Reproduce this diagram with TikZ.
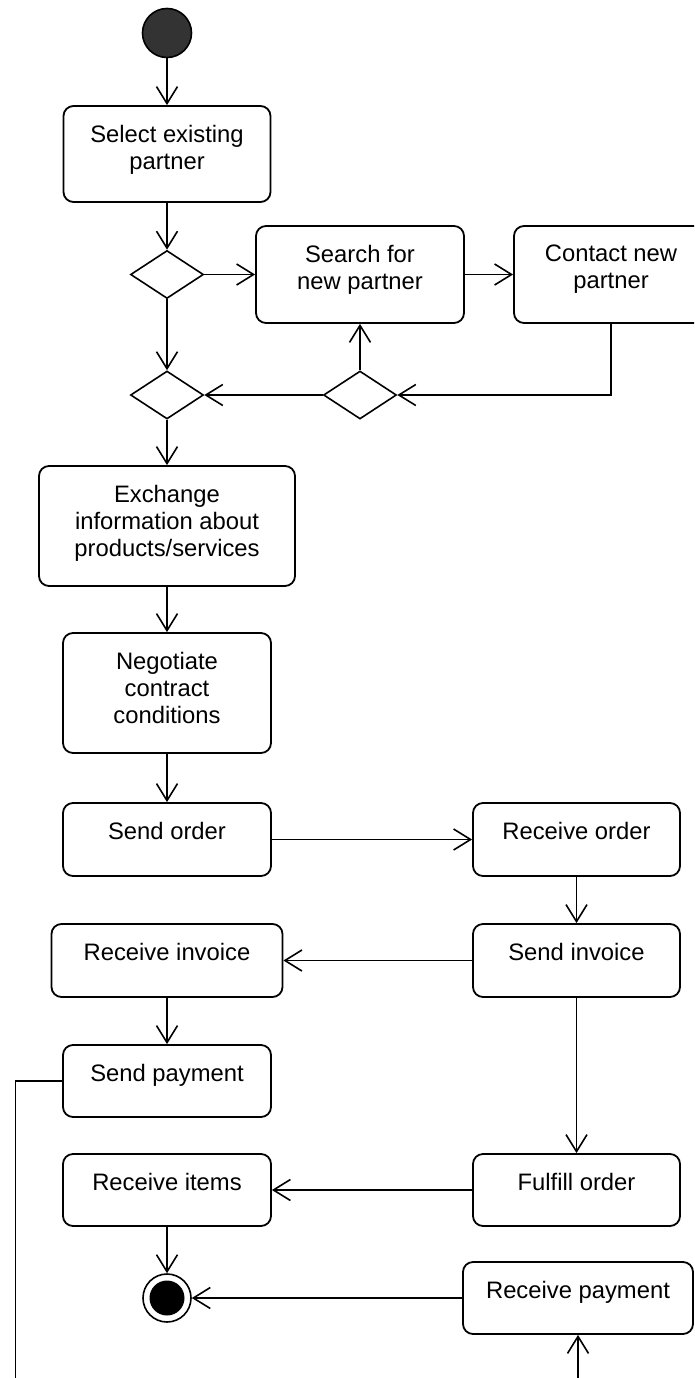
\documentclass[tikz,border=0pt]{standalone}
\usepackage{fontspec}
\setmainfont{Liberation Sans}
\usetikzlibrary{arrows.meta,shapes.geometric}
\definecolor{startgray}{HTML}{333333}
\begin{document}
\begin{tikzpicture}[x=1pt,y=-1pt,
  act/.style={draw, rounded corners=10pt, line width=1.8pt, inner sep=0pt},
  lbl/.style={anchor=north, inner sep=0pt, align=center, font={\fontsize{23.8}{27}\selectfont}},
  dec/.style={draw, diamond, line width=1.6pt, minimum width=73pt, minimum height=48pt, inner sep=0pt},
  flow/.style={line width=1.6pt, -{Straight Barb[length=17pt,width=21pt]}},
  link/.style={line width=1.6pt}]
\useasboundingbox (0,0) rectangle (694,1378);
\clip (0,0) rectangle (694,1378);

% nodes
\node[circle, draw, fill=startgray, line width=1.6pt, minimum size=49pt, inner sep=0pt] (start) at (167,33) {};

\node[act, minimum width=207pt, minimum height=96pt] (sel) at (167,154) {};
\node[lbl] (selT) at (167,125) {Select existing\\partner};

\node[dec] (d1) at (167,274.5) {};
\node[act, minimum width=208pt, minimum height=97pt] (search) at (360,274.5) {};
\node[lbl] (searchT) at (360,245) {Search for\\new partner};
\node[act, minimum width=194pt, minimum height=97pt] (contact) at (611,274.5) {};
\node[lbl] (contactT) at (611,245) {Contact new\\partner};

\node[dec] (d2) at (167,395) {};
\node[dec] (d3) at (360,395) {};

\node[act, minimum width=256pt, minimum height=120pt] (exch) at (167,526) {};
\node[lbl] (exchT) at (167,485) {Exchange\\information about\\products/services};

\node[act, minimum width=208pt, minimum height=120pt] (nego) at (167,693) {};
\node[lbl] (negoT) at (167,652) {Negotiate\\contract\\conditions};

\node[act, minimum width=208pt, minimum height=73pt] (sorder) at (167,839.5) {};
\node[lbl] (sorderT) at (167,822) {Send order};
\node[act, minimum width=207pt, minimum height=73pt] (rorder) at (576.5,839.5) {};
\node[lbl] (rorderT) at (576.5,822) {Receive order};

\node[act, minimum width=231pt, minimum height=73pt] (rinv) at (167,960.5) {};
\node[lbl] (rinvT) at (167,943) {Receive invoice};
\node[act, minimum width=207pt, minimum height=73pt] (sinv) at (576.5,960.5) {};
\node[lbl] (sinvT) at (576.5,943) {Send invoice};

\node[act, minimum width=208pt, minimum height=72pt] (spay) at (167,1081) {};
\node[lbl] (spayT) at (167,1064) {Send payment};

\node[act, minimum width=208pt, minimum height=72pt] (ritems) at (167,1190) {};
\node[lbl] (ritemsT) at (167,1173) {Receive items};
\node[act, minimum width=207pt, minimum height=72pt] (fulfill) at (576.5,1190) {};
\node[lbl] (fulfillT) at (576.5,1173) {Fulfill order};

\node[circle, draw, line width=1.6pt, minimum size=48pt, inner sep=0pt] (end) at (167,1298) {};
\node[circle, fill=black, minimum size=35pt, inner sep=0pt] (endin) at (167,1298) {};
\node[act, minimum width=230pt, minimum height=72pt] (rpay) at (578,1298) {};
\node[lbl] (rpayT) at (578,1281) {Receive payment};

\coordinate (pbot) at (15.5,1382);
\coordinate (rpbot) at (578,1382);

% connectors
\draw[flow] (start) -- (sel);
\draw[flow] (sel) -- (d1);
\draw[flow] (d1) -- (search);
\draw[flow] (search) -- (contact);
\draw[flow] (d1) -- (d2);
\draw[flow] (contact.south) |- (d3.east);
\draw[flow] (d3) -- (search);
\draw[flow] (d3) -- (d2);
\draw[flow] (d2) -- (exch);
\draw[flow] (exch) -- (nego);
\draw[flow] (nego) -- (sorder);
\draw[flow] (sorder) -- (rorder);
\draw[flow] (rorder) -- (sinv);
\draw[flow] (sinv) -- (rinv);
\draw[flow] (rinv) -- (spay);
\draw[flow] (sinv) -- (fulfill);
\draw[flow] (fulfill) -- (ritems);
\draw[flow] (ritems) -- (end);
\draw[flow] (rpay) -- (end);
\draw[link] (spay.west) -| (pbot);
\draw[flow] (rpbot) -- (rpay);
\end{tikzpicture}
\end{document}
